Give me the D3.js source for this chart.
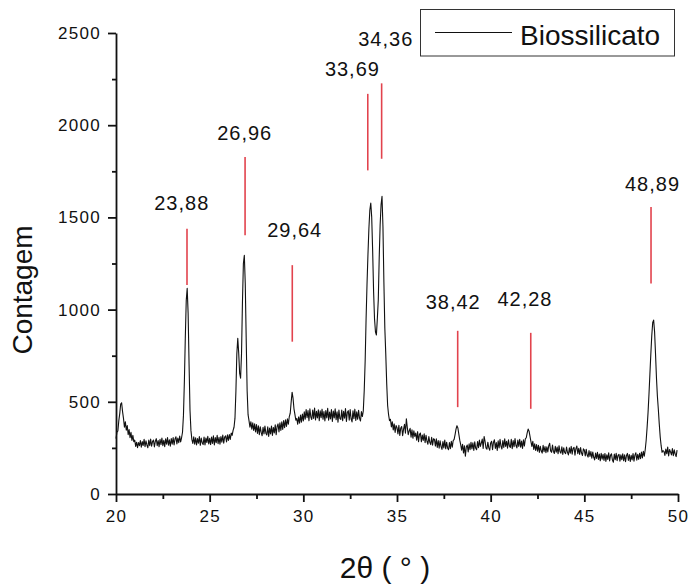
<!DOCTYPE html>
<html>
<head>
<meta charset="utf-8">
<script src="https://cdn.jsdelivr.net/npm/d3@7"></script>
<style>
  body { margin: 0; background: #fff; }
  svg text { font-family: "Liberation Sans", Arial, sans-serif; fill: #111; }
</style>
</head>
<body>
<div class="content"></div>
<script>
// difratograma: contagens, passo de 0.05 grau a partir de 20
var startAngle = 20, stepAngle = 0.05;
var counts = [
  300, 335, 342, 398, 436, 488, 495, 447, 410, 362, 392, 346, 371, 322, 349, 305, 334, 290, 318, 284, // 20
  292, 258, 281, 251, 279, 262, 290, 254, 284, 263, 296, 257, 288, 266, 251, 293, 262, 298, 259, 284, // 21
  293, 255, 286, 300, 262, 290, 256, 297, 268, 303, 262, 291, 257, 299, 270, 306, 265, 294, 259, 301, // 22
  270, 306, 266, 298, 310, 272, 303, 278, 314, 282, 305, 335, 425, 610, 850, 1050, 1115, 980, 705, 455, // 23
  345, 296, 274, 310, 270, 305, 266, 301, 275, 312, 264, 303, 278, 268, 309, 266, 304, 279, 313, 271, // 24
  302, 268, 309, 274, 315, 266, 306, 278, 318, 273, 307, 270, 312, 281, 320, 275, 309, 315, 282, 321, // 25
  290, 322, 296, 330, 318, 345, 362, 410, 555, 760, 845, 765, 655, 628, 760, 1040, 1250, 1295, 1140, 840, // 26
  560, 430, 398, 362, 392, 351, 386, 345, 381, 336, 377, 328, 370, 322, 365, 334, 316, 362, 326, 368, // 27
  330, 320, 364, 312, 358, 326, 368, 318, 361, 331, 375, 322, 366, 380, 336, 386, 345, 392, 350, 398, // 28
  360, 402, 366, 408, 378, 420, 438, 498, 552, 520, 462, 432, 400, 410, 378, 418, 384, 428, 390, 434, // 29
  396, 446, 405, 458, 414, 452, 398, 462, 417, 404, 455, 410, 466, 402, 448, 412, 457, 398, 451, 414, // 30
  460, 405, 447, 396, 452, 412, 465, 400, 445, 407, 458, 394, 450, 413, 462, 403, 446, 390, 455, 410, // 31
  404, 455, 398, 448, 411, 463, 394, 443, 452, 400, 458, 407, 391, 451, 409, 460, 399, 446, 405, 454, // 32
  410, 396, 447, 420, 450, 560, 720, 950, 1140, 1300, 1440, 1540, 1578, 1500, 1320, 1100, 950, 880, 862, 950, // 33
  1050, 1280, 1460, 1570, 1614, 1450, 1150, 900, 760, 600, 480, 430, 398, 405, 364, 392, 348, 380, 334, 371, // 34
  360, 326, 372, 318, 358, 366, 316, 352, 378, 330, 408, 360, 322, 342, 356, 308, 348, 302, 343, 312, // 35
  330, 292, 338, 284, 324, 331, 283, 320, 290, 327, 278, 318, 286, 270, 312, 280, 268, 308, 265, 300, // 36
  296, 260, 299, 252, 290, 248, 288, 258, 242, 285, 250, 292, 245, 281, 250, 240, 279, 246, 286, 254, // 37
  290, 296, 322, 352, 370, 358, 325, 292, 268, 238, 270, 222, 262, 205, 255, 266, 228, 272, 240, 280, // 38
  244, 278, 236, 283, 248, 240, 285, 251, 292, 258, 276, 298, 247, 312, 285, 250, 243, 281, 250, 237, // 39
  277, 286, 240, 281, 294, 247, 279, 236, 288, 250, 296, 260, 244, 290, 252, 299, 258, 286, 248, 294, // 40
  261, 252, 297, 246, 290, 256, 301, 263, 250, 292, 258, 296, 254, 287, 247, 294, 260, 299, 305, 331, // 41
  352, 341, 312, 284, 258, 286, 242, 272, 236, 268, 232, 264, 226, 259, 233, 222, 264, 230, 257, 224, // 42
  256, 228, 262, 275, 234, 226, 266, 231, 220, 259, 227, 254, 218, 262, 229, 222, 256, 215, 251, 225, // 43
  219, 254, 226, 212, 250, 221, 258, 216, 247, 253, 211, 246, 260, 219, 248, 214, 252, 222, 209, 245, // 44
  238, 206, 243, 211, 200, 236, 204, 230, 194, 228, 199, 185, 222, 193, 226, 188, 217, 180, 221, 189, // 45
  215, 182, 220, 176, 213, 187, 223, 179, 211, 218, 184, 172, 216, 186, 221, 181, 209, 215, 178, 212, // 46
  186, 218, 180, 213, 175, 209, 220, 182, 214, 176, 210, 185, 219, 178, 211, 224, 183, 215, 188, 221, // 47
  192, 227, 196, 231, 205, 240, 290, 360, 440, 540, 650, 760, 860, 930, 943, 880, 760, 630, 530, 460, // 48
  380, 310, 262, 226, 235, 231, 209, 244, 218, 254, 206, 241, 228, 212, 246, 208, 240, 216, 203, 238  // 49
];

var xTicks = [20, 25, 30, 35, 40, 45, 50];
var xMinorTicks = [22.5, 27.5, 32.5, 37.5, 42.5, 47.5];
var yTicks = [0, 500, 1000, 1500, 2000, 2500];
var yMinorTicks = [250, 750, 1250, 1750, 2250];

// picos marcados (linhas vermelhas e rotulos)
var peakLabels = ["23,88", "26,96", "29,64", "33,69", "34,36", "38,42", "42,28", "48,89"];
var peakLineAngle = [23.79, 26.89, 29.41, 33.44, 34.18, 38.24, 42.14, 48.56];
var peakLineTop = [1439, 1827, 1241, 2170, 2227, 885, 874, 1556];
var peakLineBottom = [1133, 1403, 826, 1755, 1818, 471, 462, 1142];
var labelAngle = [23.51, 26.87, 29.54, 32.62, 34.40, 38.00, 41.83, 48.64];
var labelCount = [1538, 1921, 1391, 2265, 2431, 1001, 1019, 1643];

var seriesName = "Biossilicato";
var xTitle = "2\u03B8 ( \u00B0 )";
var yTitle = "Contagem";

var width = 689,
  height = 588;

var x = d3.scaleLinear().domain([20, 50]).range([116, 678]);
var y = d3.scaleLinear().domain([0, 2500]).range([494, 33]);

var svg = d3.select(".content").append("svg")
  .attr("width", width)
  .attr("height", height);

var points = counts.map(function (c, i) {
  return [startAngle + i * stepAngle, c];
});

var line = d3.line()
  .x(function (d) { return x(d[0]); })
  .y(function (d) { return y(d[1]); });

svg.append("path")
  .datum(points)
  .attr("fill", "none")
  .attr("stroke", "#111")
  .attr("stroke-width", 1.1)
  .attr("stroke-linejoin", "round")
  .attr("d", line);

// eixos
var xAxis = svg.append("g")
  .attr("transform", "translate(0," + y(0) + ")")
  .call(d3.axisBottom(x).tickValues(xTicks).tickSize(8).tickSizeOuter(0).tickPadding(8)
    .tickFormat(d3.format("d")));

var xMinor = svg.append("g")
  .attr("transform", "translate(0," + y(0) + ")")
  .call(d3.axisBottom(x).tickValues(xMinorTicks).tickSize(5).tickFormat(""));
xMinor.select(".domain").remove();

var yAxis = svg.append("g")
  .attr("transform", "translate(" + x(20) + ",0)")
  .call(d3.axisLeft(y).tickValues(yTicks).tickSize(8).tickSizeOuter(0).tickPadding(7)
    .tickFormat(d3.format("d")));

var yMinor = svg.append("g")
  .attr("transform", "translate(" + x(20) + ",0)")
  .call(d3.axisLeft(y).tickValues(yMinorTicks).tickSize(4).tickFormat(""));
yMinor.select(".domain").remove();

svg.selectAll(".domain, .tick line")
  .attr("stroke", "#111")
  .attr("stroke-width", 1.8);

svg.selectAll(".tick text")
  .style("font-size", "17px")
  .style("letter-spacing", "1.3px")
  .attr("fill", "#111");

// linhas dos picos
svg.selectAll(".peakLine")
  .data(peakLabels)
  .enter().append("line")
  .attr("class", "peakLine")
  .attr("x1", function (d, i) { return x(peakLineAngle[i]); })
  .attr("x2", function (d, i) { return x(peakLineAngle[i]); })
  .attr("y1", function (d, i) { return y(peakLineTop[i]); })
  .attr("y2", function (d, i) { return y(peakLineBottom[i]); })
  .attr("stroke", "#e2434d")
  .attr("stroke-width", 1.6);

svg.selectAll(".peakLabel")
  .data(peakLabels)
  .enter().append("text")
  .attr("class", "peakLabel")
  .attr("x", function (d, i) { return x(labelAngle[i]); })
  .attr("y", function (d, i) { return y(labelCount[i]); })
  .attr("text-anchor", "middle")
  .style("font-size", "20px")
  .style("letter-spacing", "1px")
  .text(function (d) { return d; });

// legenda
var legend = svg.append("g");
legend.append("rect")
  .attr("x", 420.5)
  .attr("y", 9.5)
  .attr("width", 254)
  .attr("height", 46.5)
  .attr("fill", "#fff")
  .attr("stroke", "#333")
  .attr("stroke-width", 1);
legend.append("line")
  .attr("x1", 435)
  .attr("x2", 512)
  .attr("y1", 32.5)
  .attr("y2", 32.5)
  .attr("stroke", "#111")
  .attr("stroke-width", 1.1);
legend.append("text")
  .attr("x", 520)
  .attr("y", 45)
  .style("font-size", "28px")
  .text(seriesName);

// titulos
svg.append("text")
  .attr("transform", "translate(32,290) rotate(-90)")
  .attr("text-anchor", "middle")
  .style("font-size", "28px")
  .text(yTitle);

svg.append("text")
  .attr("x", 385)
  .attr("y", 578)
  .attr("text-anchor", "middle")
  .style("font-size", "30px")
  .text(xTitle);
</script>
</body>
</html>
